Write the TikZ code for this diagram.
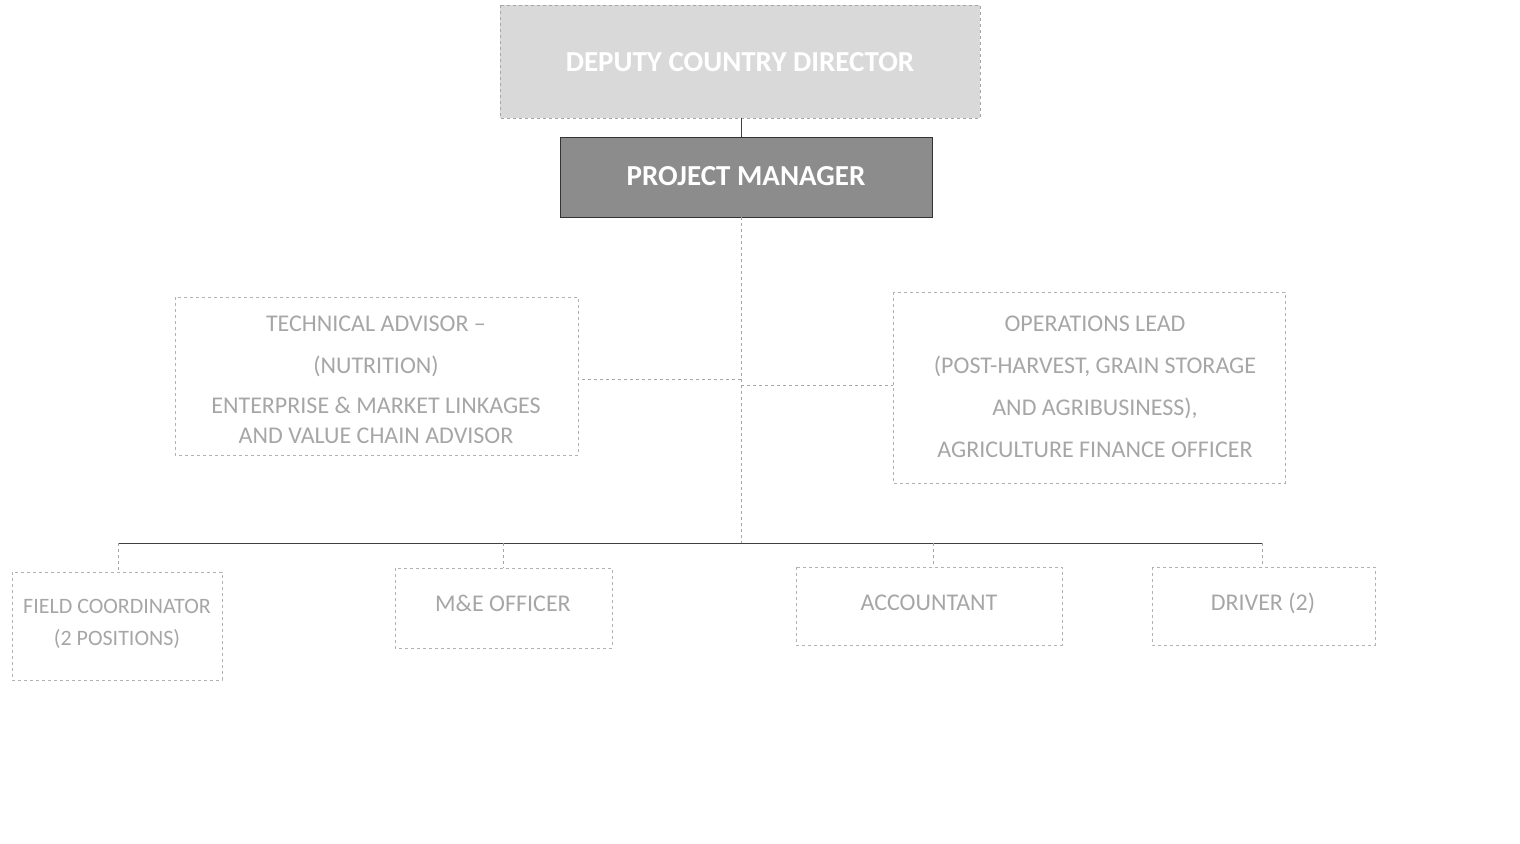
\documentclass[tikz,border=0pt]{standalone}
\usepackage{fontspec}
\setmainfont{Carlito}
% NOTE: in the reference image only "DEPUTY COUNTRY DIRECTOR", "PROJECT MANAGER"
% and the word "OPERATIONS" are legible. All other labels below are
% placeholders guessed from the shape and length of the degraded text,
% not transcriptions; replace them with the real titles.
\begin{document}
\begin{tikzpicture}[x=1pt,y=-1pt,
  topbox/.style={draw=gray!70,dashed,fill=gray!30,line width=0.8pt},
  pmbox/.style={draw=gray!40!black,fill=gray!90,line width=1pt},
  unitbox/.style={draw=gray!60,dashed,line width=0.7pt},
  txt/.style={text=gray!70,font=\fontsize{24}{30}\selectfont,align=center},
  link/.style={draw=gray!70,dashed,line width=0.7pt},
  bus/.style={draw=gray!50!black,line width=0.8pt}]
\useasboundingbox (0,0) rectangle (1520,843);
% boxes
\draw[topbox] (500,5) rectangle (980,118);
\node[text=white,font=\fontsize{29}{34}\selectfont\bfseries] (dcd) at (740,62) {DEPUTY COUNTRY DIRECTOR};
\coordinate (dcdb) at (741,118);
\draw[pmbox] (560,137) rectangle (932,217);
\node[text=white,font=\fontsize{29}{34}\selectfont\bfseries] (pm) at (746,176) {PROJECT MANAGER};
\coordinate (pmt) at (741,137);
\coordinate (pmb) at (741,217);
\draw[unitbox] (175,297) rectangle (578,455);
% placeholder text (illegible in reference)
\node[txt] (tl) at (376,380) {TECHNICAL ADVISOR –\\[12pt](NUTRITION)\\[10pt]ENTERPRISE \& MARKET LINKAGES\\AND VALUE CHAIN ADVISOR};
\draw[unitbox] (893,292) rectangle (1285,483);
% only "OPERATIONS" legible; rest is placeholder
\node[txt] (op) at (1095,387) {OPERATIONS LEAD\\[12pt](POST-HARVEST, GRAIN STORAGE\\[12pt]AND AGRIBUSINESS),\\[12pt]AGRICULTURE FINANCE OFFICER};
\coordinate (lb) at (578,379);
\coordinate (rb) at (893,385);
\coordinate (vl) at (741,379);
\coordinate (vr) at (741,385);
\coordinate (busc) at (741,543);
% bottom boxes (placeholder text, illegible in reference)
\draw[unitbox] (12,572) rectangle (222,680);
\node[txt,font=\fontsize{22}{28}\selectfont] (b1) at (117,624) {FIELD COORDINATOR\\[4pt](2 POSITIONS)};
\draw[unitbox] (395,568) rectangle (612,648);
\node[txt] (b2) at (503,603) {M\&E OFFICER};
\draw[unitbox] (796,567) rectangle (1062,645);
\node[txt] (b3) at (929,603) {ACCOUNTANT};
\draw[unitbox] (1152,567) rectangle (1375,645);
\node[txt] (b4) at (1263,603) {DRIVER (2)};
\coordinate (d1) at (118,543);
\coordinate (d2) at (503,543);
\coordinate (d3) at (933,543);
\coordinate (d4) at (1262,543);
\coordinate (t1) at (118,572);
\coordinate (t2) at (503,568);
\coordinate (t3) at (933,567);
\coordinate (t4) at (1262,567);
% connectors
\draw[bus] (dcdb) -- (pmt);
\draw[link] (pmb) -- (busc);
\draw[link] (vl) -- (lb);
\draw[link] (vr) -- (rb);
\draw[bus] (d1) -- (d4);
\draw[link] (d1) -- (t1);
\draw[link] (d2) -- (t2);
\draw[link] (d3) -- (t3);
\draw[link] (d4) -- (t4);
\end{tikzpicture}
\end{document}
